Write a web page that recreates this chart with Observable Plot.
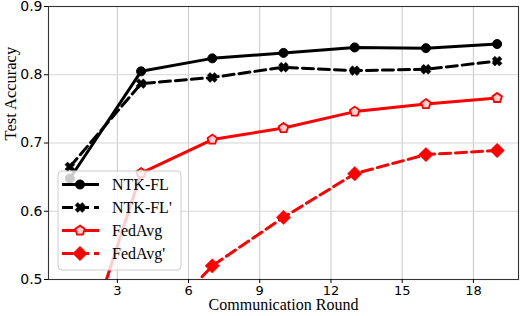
<!DOCTYPE html>
<html>
<head>
<meta charset="utf-8">
<script src="https://cdn.jsdelivr.net/npm/d3@7"></script>
<script src="https://cdn.jsdelivr.net/npm/@observablehq/plot@0.6"></script>
<style>
  html, body { margin: 0; padding: 0; background: #fff; }
  #wrap { position: relative; width: 520px; height: 316px; }
  #legend { position: absolute; left: 0; top: 0; pointer-events: none; }
</style>
</head>
<body>
<div id="wrap"></div>
<script>
// ---- data ----
const rounds = [1, 4, 7, 10, 13, 16, 19];
const ntkFL  = [0.648, 0.805, 0.824, 0.832, 0.840, 0.839, 0.845];
const ntkFLp = [0.665, 0.787, 0.796, 0.811, 0.806, 0.808, 0.820];
const fedAvg = [0.335, 0.656, 0.705, 0.722, 0.746, 0.757, 0.766];
const fedAvgP = [0.30, 0.409, 0.520, 0.591, 0.655, 0.683, 0.689];
const seriesNames = ["NTK-FL", "NTK-FL'", "FedAvg", "FedAvg'"];
const xTicks = [3, 6, 9, 12, 15, 18];
const yTicks = [0.5, 0.6, 0.7, 0.8, 0.9];

// ---- marker symbols ----
const symX = {
  draw(ctx, size) {
    const r = Math.sqrt(size / Math.PI) * 1.1, w = r * 0.38;
    const pts = [];
    for (let i = 0; i < 4; i++) {
      const a = Math.PI / 4 + i * Math.PI / 2;
      const ca = Math.cos(a), sa = Math.sin(a);
      const px = -sa, py = ca;
      pts.push([ca * r - px * w, sa * r - py * w]);
      pts.push([ca * r + px * w, sa * r + py * w]);
      const b = a + Math.PI / 4;
      pts.push([Math.cos(b) * w * 1.414, Math.sin(b) * w * 1.414]);
    }
    ctx.moveTo(pts[0][0], pts[0][1]);
    for (let i = 1; i < pts.length; i++) ctx.lineTo(pts[i][0], pts[i][1]);
    ctx.closePath();
  }
};
const symPent = {
  draw(ctx, size) {
    const r = Math.sqrt(size / Math.PI);
    for (let i = 0; i < 5; i++) {
      const a = -Math.PI / 2 + i * 2 * Math.PI / 5;
      const x = Math.cos(a) * r, y = Math.sin(a) * r;
      if (i === 0) ctx.moveTo(x, y); else ctx.lineTo(x, y);
    }
    ctx.closePath();
  }
};

const styles = [
  {name: seriesNames[0], ys: ntkFL,  color: "black", dash: null,   symbol: "circle", r: 4.5, fill: "black", stroke: "black", sw: 1},
  {name: seriesNames[1], ys: ntkFLp, color: "black", dash: "11,5", symbol: symX,     r: 4.6, fill: "black", stroke: "black", sw: 0.5},
  {name: seriesNames[2], ys: fedAvg, color: "red",   dash: null,   symbol: symPent,  r: 5,   fill: "#ffd0d0", stroke: "red", sw: 1.8},
  {name: seriesNames[3], ys: fedAvgP, color: "red",  dash: "11,5", symbol: "diamond2", r: 6.5, fill: "red", stroke: "red", sw: 0.5}
];

const marks = [
  Plot.gridX(xTicks, {stroke: "#c8c8c8", strokeOpacity: 1, strokeWidth: 1}),
  Plot.gridY(yTicks, {stroke: "#d6d6d6", strokeOpacity: 1, strokeWidth: 1.2}),
];
for (const s of styles) {
  const data = rounds.map((x, i) => ({x, y: s.ys[i]}));
  marks.push(Plot.line(data, {x: "x", y: "y", stroke: s.color, strokeWidth: 3, strokeDasharray: s.dash, clip: true}));
  marks.push(Plot.dot(data, {x: "x", y: "y", symbol: s.symbol, r: s.r, fill: s.fill, stroke: s.stroke, strokeWidth: s.sw, clip: true}));
}
marks.push(
  Plot.frame({stroke: "#333", strokeWidth: 1.1}),
  Plot.axisX(xTicks, {tickSize: 4, tickPadding: 2, fontSize: 13, fontFamily: "DejaVu Sans", fill: "black", label: null}),
  Plot.axisY(yTicks, {tickSize: 4, tickPadding: 2, fontSize: 14, fontFamily: "DejaVu Sans", fill: "black", label: null, tickFormat: d => d.toFixed(1)}),
  Plot.text(["Communication Round"], {frameAnchor: "bottom", dy: 30.5, fontSize: 16, fontFamily: "Liberation Serif", fill: "black"}),
  Plot.text(["Test Accuracy"], {frameAnchor: "left", dx: -38, dy: -2.5, rotate: -90, fontSize: 16.5, fontFamily: "Liberation Serif", fill: "black"})
);

const chart = Plot.plot({
  width: 520, height: 316,
  marginLeft: 48, marginRight: 2, marginTop: 6, marginBottom: 37,
  x: {domain: [0.1, 19.9]},
  y: {domain: [0.5, 0.9]},
  style: {background: "white", overflow: "visible"},
  marks
});
document.getElementById("wrap").appendChild(chart);

// ---- legend (overlay inside the plot area) ----
const leg = d3.select("#wrap").append("svg").attr("id", "legend")
  .attr("width", 520).attr("height", 316);
const g = leg.append("g").attr("transform", "translate(58,171)");
g.append("rect").attr("width", 123).attr("height", 99).attr("rx", 4)
  .attr("fill", "white").attr("fill-opacity", 0.8).attr("stroke", "#ccc");
styles.forEach((s, i) => {
  const y = 13.5 + i * 23;
  g.append("line").attr("x1", 4).attr("x2", 41).attr("y1", y).attr("y2", y)
    .attr("stroke", s.color).attr("stroke-width", 3)
    .attr("stroke-dasharray", s.dash ? "11,5" : null);
  let path;
  if (s.symbol === "circle") path = d3.symbol(d3.symbolCircle, Math.PI * s.r * s.r)();
  else if (s.symbol === "diamond2") path = d3.symbol(d3.symbolDiamond2, Math.PI * s.r * s.r)();
  else path = d3.symbol(s.symbol, Math.PI * s.r * s.r)();
  g.append("path").attr("d", path).attr("transform", `translate(22,${y})`)
    .attr("fill", s.fill).attr("stroke", s.stroke).attr("stroke-width", s.sw);
  g.append("text").attr("x", 54).attr("y", y).attr("dy", "0.35em")
    .attr("font-family", "Liberation Serif").attr("font-size", 16).attr("fill", "black")
    .text(s.name);
});
</script>
</body>
</html>
